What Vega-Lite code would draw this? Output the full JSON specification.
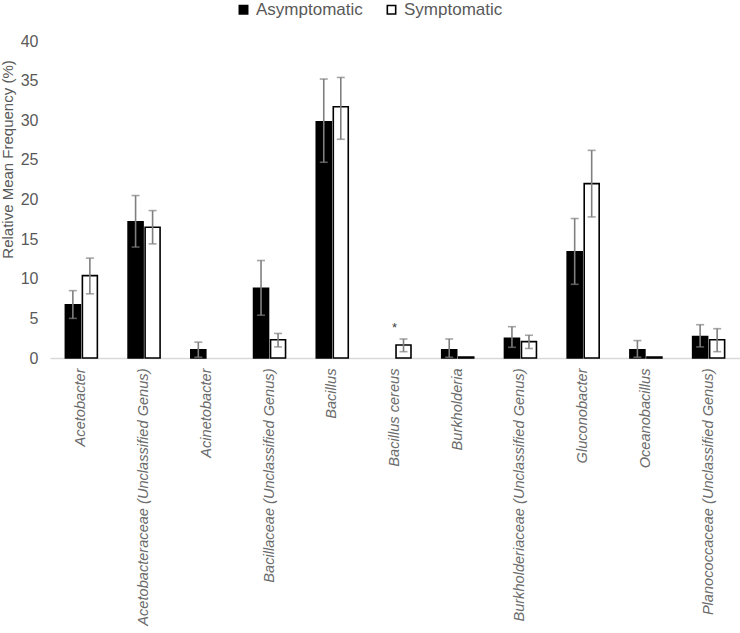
{
  "$schema": "https://vega.github.io/schema/vega-lite/v6.json",
  "autosize": {"type": "none"},
  "padding": {"left": 50, "top": 41, "right": 0, "bottom": 275},
  "width": 690,
  "height": 317,
  "background": "white",
  "config": {
    "view": {"stroke": null},
    "font": "Liberation Sans",
    "axisY": {
      "titleFontSize": 15, "titleFontWeight": "normal",
      "titleColor": "#595959", "titleX": -43, "titleY": 118, "titleAngle": -90,
      "titleBaseline": "middle", "titleAlign": "center",
      "labelFontSize": 16, "labelColor": "#595959", "labelPadding": 12,
      "labelOverlap": false, "labelFlush": false,
      "ticks": false, "domain": false, "grid": false
    }
  },
  "data": {
    "values": [
      {"taxon": "Acetobacter", "group": "Asymptomatic", "mean": 6.7, "lower": 5.0, "upper": 8.5, "sig": ""},
      {"taxon": "Acetobacter", "group": "Symptomatic", "mean": 10.4, "lower": 8.1, "upper": 12.6, "sig": ""},
      {"taxon": "Acetobacteraceae  (Unclassified  Genus)", "group": "Asymptomatic", "mean": 17.2, "lower": 14.0, "upper": 20.5, "sig": ""},
      {"taxon": "Acetobacteraceae  (Unclassified  Genus)", "group": "Symptomatic", "mean": 16.5, "lower": 14.4, "upper": 18.6, "sig": ""},
      {"taxon": "Acinetobacter", "group": "Asymptomatic", "mean": 1.05, "lower": 0.1, "upper": 2.0, "sig": ""},
      {"taxon": "Acinetobacter", "group": "Symptomatic", "mean": null, "lower": null, "upper": null, "sig": ""},
      {"taxon": "Bacillaceae  (Unclassified  Genus)", "group": "Asymptomatic", "mean": 8.8, "lower": 5.4, "upper": 12.3, "sig": ""},
      {"taxon": "Bacillaceae  (Unclassified  Genus)", "group": "Symptomatic", "mean": 2.3, "lower": 1.4, "upper": 3.1, "sig": ""},
      {"taxon": "Bacillus", "group": "Asymptomatic", "mean": 29.8, "lower": 24.7, "upper": 35.2, "sig": ""},
      {"taxon": "Bacillus", "group": "Symptomatic", "mean": 31.7, "lower": 27.6, "upper": 35.4, "sig": ""},
      {"taxon": "Bacillus cereus", "group": "Asymptomatic", "mean": null, "lower": null, "upper": null, "sig": ""},
      {"taxon": "Bacillus cereus", "group": "Symptomatic", "mean": 1.64, "lower": 0.8, "upper": 2.4, "sig": "*"},
      {"taxon": "Burkholderia", "group": "Asymptomatic", "mean": 1.05, "lower": 0.1, "upper": 2.4, "sig": ""},
      {"taxon": "Burkholderia", "group": "Symptomatic", "mean": 0.12, "lower": null, "upper": null, "sig": ""},
      {"taxon": "Burkholderiaceae  (Unclassified  Genus)", "group": "Asymptomatic", "mean": 2.5, "lower": 1.35, "upper": 3.95, "sig": ""},
      {"taxon": "Burkholderiaceae  (Unclassified  Genus)", "group": "Symptomatic", "mean": 2.06, "lower": 1.2, "upper": 2.87, "sig": ""},
      {"taxon": "Gluconobacter", "group": "Asymptomatic", "mean": 13.4, "lower": 9.3, "upper": 17.6, "sig": ""},
      {"taxon": "Gluconobacter", "group": "Symptomatic", "mean": 22.0, "lower": 17.8, "upper": 26.2, "sig": ""},
      {"taxon": "Oceanobacillus", "group": "Asymptomatic", "mean": 1.05, "lower": 0.1, "upper": 2.2, "sig": ""},
      {"taxon": "Oceanobacillus", "group": "Symptomatic", "mean": 0.12, "lower": null, "upper": null, "sig": ""},
      {"taxon": "Planococcaceae  (Unclassified  Genus)", "group": "Asymptomatic", "mean": 2.7, "lower": 1.4, "upper": 4.2, "sig": ""},
      {"taxon": "Planococcaceae  (Unclassified  Genus)", "group": "Symptomatic", "mean": 2.3, "lower": 0.8, "upper": 3.7, "sig": ""}
    ]
  },
  "encoding": {
    "x": {
      "field": "taxon", "type": "nominal", "sort": null,
      "scale": {"paddingInner": 0.49, "paddingOuter": 0.245},
      "axis": {
        "title": null, "labelAngle": -90, "labelFontStyle": "italic",
        "labelFontSize": 14.6, "labelColor": "#6b6b6b", "labelPadding": 10,
        "ticks": false, "domainColor": "#d9d9d9", "domainWidth": 1.3,
        "labelLimit": 400, "labelOverlap": false
      }
    },
    "xOffset": {
      "field": "group", "type": "nominal",
      "scale": {"domain": ["Asymptomatic", "Symptomatic"], "paddingInner": 0.12, "paddingOuter": 0}
    }
  },
  "layer": [
    {
      "mark": {"type": "bar", "stroke": "black", "strokeWidth": 1.6},
      "encoding": {
        "y": {
          "field": "mean", "type": "quantitative",
          "scale": {"domain": [0, 40]},
          "axis": {"title": "Relative Mean Frequency (%)", "values": [0, 5, 10, 15, 20, 25, 30, 35, 40]}
        },
        "fill": {
          "field": "group", "type": "nominal",
          "scale": {"domain": ["Asymptomatic", "Symptomatic"], "range": ["black", "white"]},
          "legend": {
            "title": null, "orient": "none", "direction": "horizontal",
            "legendX": 185, "legendY": -40,
            "symbolType": "square", "symbolSize": 70,
            "symbolStrokeColor": "black", "symbolStrokeWidth": 1.6,
            "labelFontSize": 17, "labelColor": "#595959", "labelOffset": 4,
            "columnPadding": 20
          }
        }
      }
    },
    {
      "mark": {"type": "rule", "color": "#7f7f7f", "strokeWidth": 1.6},
      "encoding": {
        "y": {"field": "lower", "type": "quantitative", "axis": {"title": "Relative Mean Frequency (%)", "values": [0, 5, 10, 15, 20, 25, 30, 35, 40]}},
        "y2": {"field": "upper"}
      }
    },
    {
      "mark": {"type": "tick", "color": "#7f7f7f", "thickness": 1.6, "size": 8},
      "encoding": {
        "y": {"field": "lower", "type": "quantitative", "axis": {"title": "Relative Mean Frequency (%)", "values": [0, 5, 10, 15, 20, 25, 30, 35, 40]}}
      }
    },
    {
      "mark": {"type": "tick", "color": "#7f7f7f", "thickness": 1.6, "size": 8},
      "encoding": {
        "y": {"field": "upper", "type": "quantitative", "axis": {"title": "Relative Mean Frequency (%)", "values": [0, 5, 10, 15, 20, 25, 30, 35, 40]}}
      }
    },
    {
      "transform": [{"filter": "datum.sig == '*'"}],
      "mark": {"type": "text", "color": "#404040", "fontSize": 13, "baseline": "bottom", "dx": -9, "dy": -4},
      "encoding": {
        "y": {"field": "upper", "type": "quantitative", "axis": {"title": "Relative Mean Frequency (%)", "values": [0, 5, 10, 15, 20, 25, 30, 35, 40]}},
        "text": {"field": "sig"}
      }
    }
  ]
}
